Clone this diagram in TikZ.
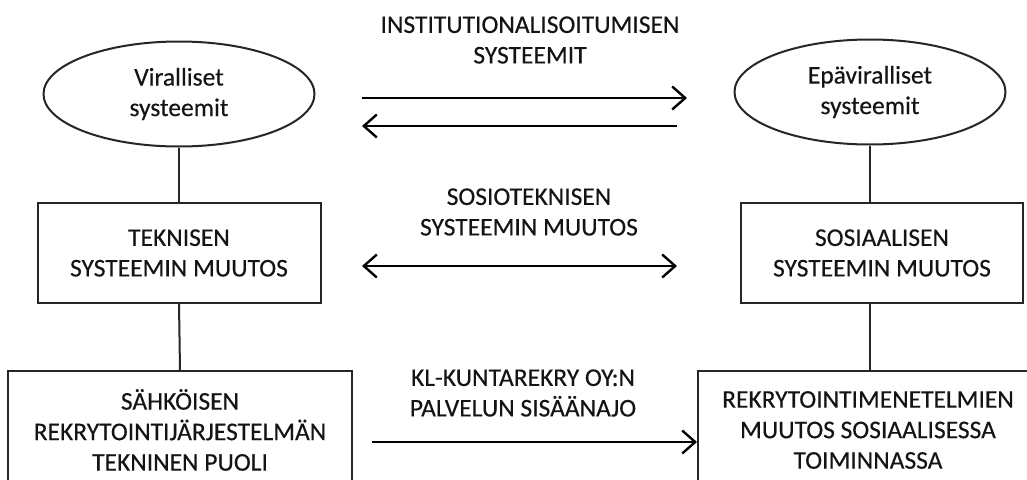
\documentclass[tikz,border=0pt]{standalone}
\usepackage{fontspec}
\setmainfont{Carlito}[FakeBold=0.35]
\usetikzlibrary{arrows.meta,shapes.geometric}
\begin{document}
\begin{tikzpicture}[x=1pt,y=-1pt,
  every node/.style={font=\fontsize{25.5}{30.5}\selectfont, text=black!92, align=center},
  outl/.style={draw=black!85, line width=2pt, inner sep=0pt},
  oval/.style={outl, ellipse, minimum width=271pt, minimum height=105pt},
  boxnode/.style={outl, rectangle},
  conn/.style={draw=black!85, line width=2pt},
  arr/.style={draw=black, line width=2.4pt, -{Straight Barb[length=13pt,width=23pt,line width=2.4pt]}},
  darr/.style={draw=black, line width=2.4pt, {Straight Barb[length=13pt,width=23pt,line width=2.4pt]}-{Straight Barb[length=13pt,width=23pt,line width=2.4pt]}},
  lbl/.style={inner sep=0pt}]
\useasboundingbox (0,0) rectangle (1027,479);
\clip (0,0) rectangle (1027,479);
\fill[white] (0,0) rectangle (1027,479);
% ellipses
\node[oval] (vir) at (179,94) {Viralliset\\systeemit};
\node[oval] (epa) at (870,92) {Epäviralliset\\systeemit};
% middle boxes
\node[boxnode, minimum width=283pt, minimum height=100pt] (tek) at (179,253) {TEKNISEN\\SYSTEEMIN MUUTOS};
\node[boxnode, minimum width=282pt, minimum height=100pt] (sos) at (882,253) {SOSIAALISEN\\SYSTEEMIN MUUTOS};
% bottom boxes
\node[boxnode, minimum width=344pt, minimum height=118pt] (sah) at (180,430) {SÄHKÖISEN\\REKRYTOINTIJÄRJESTELMÄN\\TEKNINEN PUOLI};
\node[boxnode, minimum width=340pt, minimum height=118pt] (rek) at (868,430) {REKRYTOINTIMENETELMIEN\\MUUTOS SOSIAALISESSA\\TOIMINNASSA};
% vertical connectors
\draw[conn] (vir.south) -- (tek.north);
\draw[conn] (tek.south) -- (sah.north);
\draw[conn] (epa.south) -- (epa.south |- sos.north);
\draw[conn] (epa.south |- sos.south) -- (epa.south |- rek.north);
% labels
\node[lbl] (inst) at (530,40) {INSTITUTIONALISOITUMISEN\\SYSTEEMIT};
\node[lbl] (soste) at (529,212) {SOSIOTEKNISEN\\SYSTEEMIN MUUTOS};
\node[lbl] (kl) at (523,393) {KL-KUNTAREKRY OY:N\\PALVELUN SISÄÄNAJO};
% horizontal arrows
\coordinate (a1s) at (362,98);
\coordinate (a1e) at (687,98);
\coordinate (a2s) at (677,126);
\coordinate (a2e) at (362,126);
\coordinate (a3s) at (362,266);
\coordinate (a3e) at (677,266);
\coordinate (a4s) at (372,442);
\draw[arr] (a1s) -- (a1e);
\draw[arr] (a2s) -- (a2e);
\draw[darr] (a3s) -- (a3e);
\draw[arr] (a4s) -- (a4s -| rek.west);
\end{tikzpicture}
\end{document}
